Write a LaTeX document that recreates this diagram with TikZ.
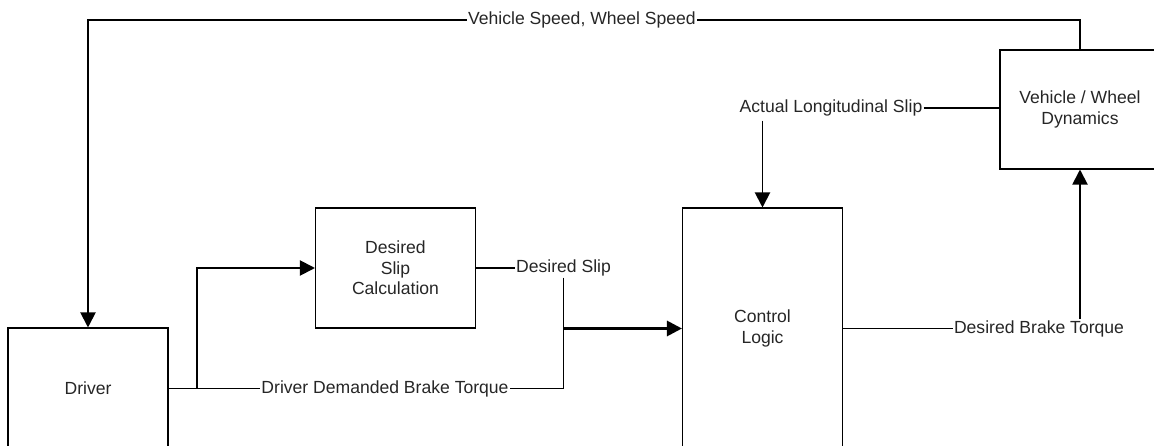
\documentclass[tikz,border=0pt]{standalone}
\usepackage{fontspec}
\setmainfont{Liberation Sans}
\usepackage{tikz}
\usetikzlibrary{positioning,arrows.meta,calc}
\usepackage{xcolor}

\begin{document}
\begin{tikzpicture}[x=0.02cm,y=-0.02cm,
  every node/.style={font=\fontsize{10}{11.6}\selectfont,text=black!85},
  block/.style={draw,line width=0.6pt,minimum width=3.2cm,align=center,inner sep=0pt},
  lbl/.style={inner sep=0.6pt},
  wire/.style={line width=1.1pt},
  arr/.style={wire,-{Triangle[length=0.3cm,width=0.3cm]}},
  fatarr/.style={line width=1.6pt,-{Triangle[length=0.3cm,width=0.3cm]}}]
\useasboundingbox (0,0) rectangle (1154,446);
% blocks
\node[block,minimum height=2.42cm] (driver) at (88,388.5) {Driver};
\node[block,minimum height=2.4cm] (desired) at (395.5,268) {Desired\\Slip\\Calculation};
\node[block,minimum height=4.82cm] (control) at (762.5,328.5) {Control\\Logic};
\node[block,minimum height=2.38cm] (vehicle) at (1080,109.5) {Vehicle / Wheel\\Dynamics};
% signal labels
\node[lbl] (speed) at (582,20) {Vehicle Speed, Wheel Speed};
\node[lbl] (actslip) at (831,108) {Actual Longitudinal Slip};
\node[lbl] (dslip) at (563.5,268) {Desired Slip};
\node[lbl] (ddbt) at (385,388.5) {Driver Demanded Brake Torque};
\node[lbl] (dbt) at (1039,328.5) {Desired Brake Torque};
\coordinate (split) at (197,388.5);
% connectors
\draw[wire] (vehicle.north) |- (speed.east);
\draw[arr] (speed.west) -| (driver.north);
\draw[wire] (actslip.east) -- (actslip.east -| vehicle.west);
\draw[arr] (actslip.south -| control.north) ++(0,3) -- (control.north);
\draw[wire] (driver.east) -- (ddbt.west);
\draw[arr] (split) |- (desired.west);
\draw[wire] (desired.east) -- (dslip.west);
\draw[wire] (dslip.south) |- (ddbt.east);
\draw[fatarr] (dslip.south |- control.west) -- (control.west);
\draw[wire] (control.east) -- (dbt.west);
\draw[arr] (dbt.north -| vehicle.south) -- (vehicle.south);
\end{tikzpicture}
\end{document}
